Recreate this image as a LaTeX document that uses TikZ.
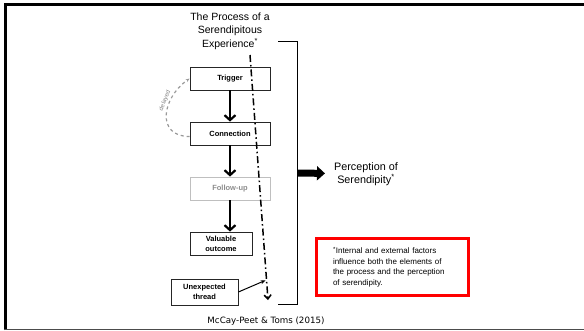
\documentclass[tikz,border=0pt]{standalone}
\usepackage{fontspec}
\setmainfont{Liberation Sans}
\newfontfamily\footfont{DejaVu Sans}
\usetikzlibrary{arrows.meta,shadows,calc}

\begin{document}
\begin{tikzpicture}[x=1pt,y=-1pt,
  box/.style={draw=black!85, line width=0.8pt, minimum width=80pt, minimum height=23pt, inner sep=1pt, align=center, font=\bfseries\fontsize{7.5}{10}\selectfont},
  flow/.style={-{Straight Barb[length=5pt,width=11pt]}, line width=2.2pt}]
\useasboundingbox (0,0) rectangle (584,330);
%\draw (0,0) grid (584,330);
\draw[line width=2.5pt] (5.5,330) -- (5.5,4.3) -- (584,4.3);
\draw[black!70, line width=0.8pt] (4,329.3) -- (584,329.3);

\node[align=center, font=\fontsize{10.5}{13.5}\selectfont] (title) at (230,31) {The Process of a\\Serendipitous\\Experience\textsuperscript{*}};

\node[box] (trig) at (230,78.5) {Trigger};
\node[box] (conn) at (230,133.5) {Connection};
\node[box, draw=black!25, text=black!45] (follow) at (230,188.5) {Follow-up};
\node[box, minimum width=62pt] (value) at (221,243.5) {Valuable\\outcome};
\node[box, minimum width=67pt, minimum height=26pt] (thread) at (204.5,292) {Unexpected\\thread};

\draw[flow] (trig) -- (conn);
\draw[flow] (conn) -- (follow);
\draw[flow] (follow.south) -- (follow.south |- value.north);

\draw[black!40, dashed, line width=1.2pt, -{Stealth[length=4pt]}] ([yshift=-3pt]conn.west) to[out=180, in=215, looseness=1.5] node[sloped, above, pos=0.66, inner sep=1.5pt, font=\fontsize{6}{7}\selectfont, text=black!50] {delayed} (trig.west);

\coordinate (top) at (250,55);
\coordinate (bot) at (268,300);
\coordinate (hit) at ($(top)!0.918!(bot)$);
\draw[line width=1.5pt, dash pattern=on 7pt off 3pt on 1.5pt off 3pt, -{Straight Barb[length=4pt,width=7pt]}] (top) -- (bot);
\draw[line width=1pt, -{Stealth[length=5pt]}, shorten >=1pt] (thread.east) -- (hit);

\draw[line width=1pt] (278,41) -- (297.5,41) -- (297.5,304.5) -- (278,304.5);
\coordinate (brk) at (297.5,173);
\node[font=\fontsize{10.8}{13.5}\selectfont, align=center, inner sep=9pt] (perc) at (366,174) {Perception of\\Serendipity\textsuperscript{*}};
\draw[-{Triangle[length=8pt,width=14pt]}, line width=7pt] (brk) -- (perc);

\node[draw=red, line width=3pt, fill=white, minimum width=152pt, minimum height=57pt, text width=119pt, align=left, font=\fontsize{8}{10.5}\selectfont, drop shadow={opacity=0.25, shadow xshift=1.5pt, shadow yshift=-1.5pt}] (note) at (392.5,267) {\textsuperscript{*}Internal and external factors\\influence both the elements of\\the process and the perception\\of serendipity.};

\node[font=\footfont\fontsize{8.7}{10}\selectfont] (cite) at (266,321) {McCay-Peet \& Toms (2015)};
\end{tikzpicture}
\end{document}
